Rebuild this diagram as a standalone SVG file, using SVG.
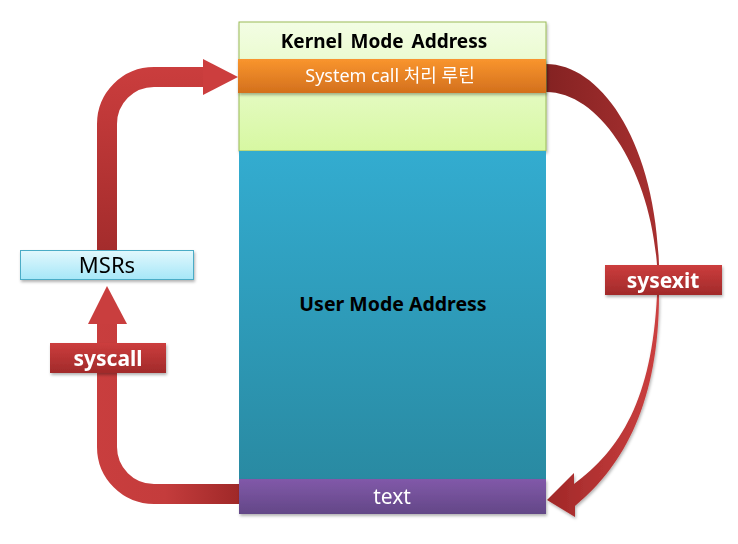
<svg xmlns="http://www.w3.org/2000/svg" width="738" height="544" viewBox="0 0 738 544">
<defs>
<linearGradient id="gKernel" x1="0" y1="0" x2="0" y2="1"><stop offset="0" stop-color="#f3fde4"/><stop offset="1" stop-color="#d7f8a2"/></linearGradient>
<linearGradient id="gOrange" x1="0" y1="0" x2="0" y2="1"><stop offset="0" stop-color="#f9952e"/><stop offset="1" stop-color="#d3701d"/></linearGradient>
<linearGradient id="gUser" x1="0" y1="0" x2="0" y2="1"><stop offset="0" stop-color="#33acd0"/><stop offset="1" stop-color="#298aa2"/></linearGradient>
<linearGradient id="gPurple" x1="0" y1="0" x2="0" y2="1"><stop offset="0" stop-color="#8159a9"/><stop offset="1" stop-color="#634787"/></linearGradient>
<linearGradient id="gMsr" x1="0" y1="0" x2="0" y2="1"><stop offset="0" stop-color="#e2f8fd"/><stop offset="1" stop-color="#a6e7f8"/></linearGradient>
<linearGradient id="gLabel" x1="0" y1="0" x2="0" y2="1"><stop offset="0" stop-color="#cc3d3d"/><stop offset="1" stop-color="#a12a2a"/></linearGradient>
<linearGradient id="gUp" gradientUnits="userSpaceOnUse" x1="0" y1="60" x2="0" y2="250"><stop offset="0" stop-color="#cc3e3e"/><stop offset="1" stop-color="#a42c2c"/></linearGradient>
<linearGradient id="gLow" gradientUnits="userSpaceOnUse" x1="90" y1="0" x2="240" y2="0"><stop offset="0" stop-color="#c93e3e"/><stop offset="0.5" stop-color="#c43c3c"/><stop offset="1" stop-color="#9f2828"/></linearGradient>
<linearGradient id="gRTop" gradientUnits="userSpaceOnUse" x1="546" y1="0" x2="660" y2="0"><stop offset="0" stop-color="#842222"/><stop offset="1" stop-color="#a83030"/></linearGradient>
<linearGradient id="gRLow" gradientUnits="userSpaceOnUse" x1="547" y1="0" x2="660" y2="0"><stop offset="0" stop-color="#a02828"/><stop offset="1" stop-color="#cc4040"/></linearGradient>
<filter id="sh" x="-10%" y="-10%" width="120%" height="130%"><feDropShadow dx="1" dy="2" stdDeviation="1.5" flood-color="#000" flood-opacity="0.3"/></filter>
</defs>
<style>
.t{font-family:"Noto Sans","Open Sans","Noto Sans CJK KR",sans-serif}
.b{font-weight:bold}
.w{fill:#ffffff}
.k{fill:#000000}
</style>
<rect width="738" height="544" fill="#ffffff"/>
<g id="connectors">
<g id="c-msr-kernel">
<path d="M107,250 V124 A47,47 0 0 1 154,77 H206" fill="none" stroke="url(#gUp)" stroke-width="20"/>
<polygon points="203,59 238,77 203,95" fill="#cc3e3e"/>
</g>
<g id="c-text-msr">
<path d="M239,494 H154 A47,47 0 0 1 107,447 V322" fill="none" stroke="url(#gLow)" stroke-width="20"/>
<polygon points="88,324 107,286 127,324" fill="#c93e3e"/>
</g>
<g id="c-kernel-text">
<path d="M546,64 C600,64 655,140 659,265 L657,265 C650,170 600,92 546,92 Z" fill="url(#gRTop)"/>
<path d="M657,295 L659,295 C659,400 625,465 575,506 L575,517 L547,500 L574,473 L574,484 C620,450 652,400 657,295 Z" fill="url(#gRLow)" filter="url(#sh)"/>
</g>
</g>
<g id="kernel" filter="url(#sh)">
<rect x="239" y="22" width="307" height="129" fill="url(#gKernel)" stroke="#9bbb59" stroke-width="1"/>
<text class="t b k" x="384" y="48" font-size="19" text-anchor="middle" word-spacing="3">Kernel Mode Address</text>
</g>
<g id="syscall-routine" filter="url(#sh)">
<rect x="238" y="59" width="308" height="34" fill="url(#gOrange)"/>
<text class="t w" x="390" y="82" font-size="18" text-anchor="middle">System call 처리 루틴</text>
</g>
<g id="user">
<rect x="239" y="151" width="307" height="329" fill="url(#gUser)"/>
<text class="t b k" x="393" y="311" font-size="19.5" text-anchor="middle">User Mode Address</text>
</g>
<g id="text" filter="url(#sh)">
<rect x="239" y="479" width="307" height="35" fill="url(#gPurple)"/>
<text class="t w" x="392" y="504" font-size="21" text-anchor="middle">text</text>
</g>
<g id="msrs" filter="url(#sh)">
<rect x="20.5" y="250.5" width="173" height="29" fill="url(#gMsr)" stroke="#4bacc6" stroke-width="1"/>
<text class="t k" x="107" y="273" font-size="22" text-anchor="middle">MSRs</text>
</g>
<g id="label-syscall" filter="url(#sh)">
<rect x="50" y="343" width="116" height="30" fill="url(#gLabel)"/>
<text class="t b w" x="108" y="366" font-size="21" text-anchor="middle">syscall</text>
</g>
<g id="label-sysexit" filter="url(#sh)">
<rect x="605" y="265" width="117" height="30" fill="url(#gLabel)"/>
<text class="t b w" x="663" y="288" font-size="21" text-anchor="middle">sysexit</text>
</g>
</svg>
